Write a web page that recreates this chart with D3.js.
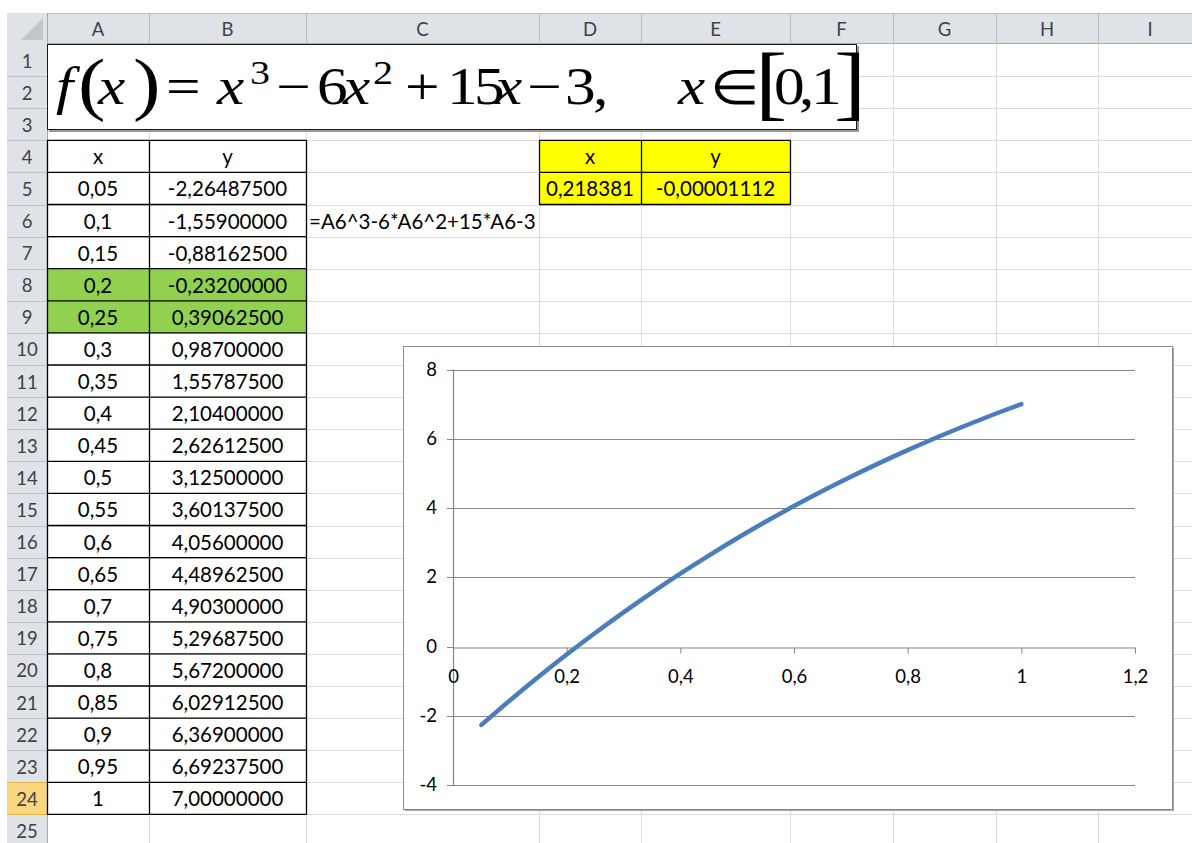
<!DOCTYPE html>
<html><head><meta charset="utf-8">
<script src="https://cdn.jsdelivr.net/npm/d3@7"></script>
<style>body{margin:0;background:#fff}svg{display:block}</style>
</head><body>
<svg id="s" width="1192" height="843"></svg>
<script>
// ---------------- data ----------------
const columnLabels = ["A","B","C","D","E","F","G","H","I"];
const xValues = [0.05,0.1,0.15,0.2,0.25,0.3,0.35,0.4,0.45,0.5,0.55,0.6,0.65,0.7,0.75,0.8,0.85,0.9,0.95,1];
const yValues = [-2.264875,-1.559,-0.881625,-0.232,0.390625,0.987,1.557875,2.104,2.626125,3.125,3.601375,4.056,4.489625,4.903,5.296875,5.672,6.029125,6.369,6.692375,7];
const highlightedRows = [8, 9];
const rootX = "0,218381";
const rootY = "-0,00001112";
const formulaText = "=A6^3-6*A6^2+15*A6-3";
const xTicks = [0,0.2,0.4,0.6,0.8,1,1.2];
const yTicks = [-4,-2,0,2,4,6,8];

// ---------------- layout ----------------
const svg = d3.select("#s");
const W = 1192, H = 843;
const colEdges = [47,149,306,539,641,790,893,996,1098,1202];
const headTop = 13, headBot = 44, rowH = 32.1, rowHeadL = 7;
const rowTop = r => headBot + (r - 1) * rowH;
const FONT = "Lato, 'Open Sans', sans-serif";
const CELL_FS = 20.5;
const comma = v => String(v).replace(".", ",");

svg.append("rect").attr("width", W).attr("height", H).attr("fill", "#fff");

// cell gridlines
const grid = svg.append("g").attr("stroke", "#DADCDD").attr("stroke-width", 1);
for (let r = 2; r <= 26; r++) {
  const y = Math.round(rowTop(r)) + 0.5;
  grid.append("line").attr("x1", 47).attr("x2", W).attr("y1", y).attr("y2", y);
}
colEdges.forEach(x => grid.append("line").attr("x1", x + 0.5).attr("x2", x + 0.5).attr("y1", headBot).attr("y2", H));

// column header
const hdr = svg.append("g");
hdr.append("rect").attr("x", rowHeadL).attr("y", headTop).attr("width", W - rowHeadL).attr("height", headBot - headTop).attr("fill", "#DFE2E6");
hdr.append("line").attr("x1", rowHeadL).attr("x2", W).attr("y1", headTop + 0.5).attr("y2", headTop + 0.5).attr("stroke", "#B9BDC2");
hdr.append("line").attr("x1", rowHeadL).attr("x2", W).attr("y1", headBot - 0.5).attr("y2", headBot - 0.5).attr("stroke", "#A3A8AE");
colEdges.forEach(x => hdr.append("line").attr("x1", x + 0.5).attr("x2", x + 0.5).attr("y1", headTop).attr("y2", headBot).attr("stroke", "#B9BDC2"));
columnLabels.forEach((c, i) => {
  hdr.append("text").attr("x", (colEdges[i] + colEdges[i + 1]) / 2).attr("y", 35.5)
    .attr("text-anchor", "middle").attr("font-family", FONT).attr("font-size", 18.5)
    .attr("fill", "#3E4247").text(c);
});
// corner
hdr.append("rect").attr("x", rowHeadL).attr("y", headTop).attr("width", 40).attr("height", 31).attr("fill", "#DFE2E6");
hdr.append("path").attr("d", `M${43},${18} L${43},${40} L${21},${40} Z`).attr("fill", "#C3C7CC");
hdr.append("line").attr("x1", 47.5).attr("x2", 47.5).attr("y1", headTop).attr("y2", headBot).attr("stroke", "#A3A8AE");

// row header
const rh = svg.append("g");
rh.append("rect").attr("x", rowHeadL).attr("y", headBot).attr("width", 40).attr("height", H - headBot).attr("fill", "#DFE2E6");
for (let r = 1; r <= 25; r++) {
  const t = rowTop(r);
  if (r === 24) {
    rh.append("rect").attr("x", rowHeadL).attr("y", t).attr("width", 40).attr("height", rowH).attr("fill", "#F8D77E");
    rh.append("line").attr("x1", rowHeadL).attr("x2", 47).attr("y1", Math.round(t) + 0.5).attr("y2", Math.round(t) + 0.5).attr("stroke", "#E2B54A");
  }
  rh.append("line").attr("x1", rowHeadL).attr("x2", 47).attr("y1", Math.round(t + rowH) + 0.5).attr("y2", Math.round(t + rowH) + 0.5)
    .attr("stroke", r === 24 ? "#E2B54A" : "#BFC3C8");
  rh.append("text").attr("x", 27).attr("y", t + 23.5).attr("text-anchor", "middle")
    .attr("font-family", FONT).attr("font-size", 18.5).attr("fill", "#3E4247").text(r);
}
rh.append("line").attr("x1", 47.5).attr("x2", 47.5).attr("y1", headBot).attr("y2", H).attr("stroke", "#A3A8AE");

// ---------------- title box (equation object) ----------------
const tb = svg.append("g");
tb.append("rect").attr("x", 49).attr("y", 46).attr("width", 810).attr("height", 86).attr("fill", "#9A9A9A");
tb.append("rect").attr("x", 47.5).attr("y", 44.5).attr("width", 809).attr("height", 85).attr("fill", "#fff").attr("stroke", "#1a1a1a").attr("stroke-width", 1);
const base = 104;
const FS = 52, SUP = 34;
const pieces = [
  [56, "f", true, FS, 0], [78, "(", false, 70, 3], [98, "x", true, FS, 0], [133, ")", false, 70, 3],
  [166, "=", false, FS, 0], [217, "x", true, FS, 0], [250, "3", false, SUP, -20],
  [276, "\u2212", false, FS, 0], [317, "6", false, FS, 0], [343, "x", true, FS, 0], [373, "2", false, SUP, -20],
  [405, "+", false, FS, 0], [447, "1", false, FS, 0], [474, "5", false, FS, 0], [495, "x", true, FS, 0],
  [527, "\u2212", false, FS, 0], [565, "3", false, FS, 0], [593, ",", false, FS, 0],
  [678, "x", true, FS, 0], [710, "\u2208", false, 48, 0], [755, "[", false, 82, 6],
  [774, "0", false, FS, 0], [799, ",", false, FS, 0], [811, "1", false, FS, 0], [834, "]", false, 82, 6]
];
pieces.forEach(([x, t, it, fs, dy]) => {
  tb.append("text").attr("transform", `translate(${x},${base + dy}) scale(1.18,1)`)
    .attr("font-family", "'Liberation Serif', 'Times New Roman', serif")
    .attr("font-style", it ? "italic" : "normal").attr("font-size", fs).attr("fill", "#000").text(t);
});

// ---------------- x / y table ----------------
const tbl = svg.append("g").attr("font-family", FONT).attr("font-size", CELL_FS).attr("fill", "#000");
const cellText = (g, x0, x1, r, txt, anchor) => {
  const t = rowTop(r);
  g.append("text").attr("x", anchor === "start" ? x0 + 4 : (x0 + x1) / 2).attr("y", t + 24)
    .attr("text-anchor", anchor || "middle").text(txt);
};
const tableRows = xValues.map((x, i) => ({ r: 5 + i, x, y: yValues[i] }));
tableRows.filter(d => highlightedRows.includes(d.r)).forEach(d => {
  tbl.append("rect").attr("x", colEdges[0]).attr("y", rowTop(d.r)).attr("width", colEdges[2] - colEdges[0]).attr("height", rowH).attr("fill", "#92D050");
});
cellText(tbl, colEdges[0], colEdges[1], 4, "x");
cellText(tbl, colEdges[1], colEdges[2], 4, "y");
tableRows.forEach(d => {
  cellText(tbl, colEdges[0], colEdges[1], d.r, comma(d.x));
  cellText(tbl, colEdges[1], colEdges[2], d.r, d.y.toFixed(8).replace(".", ","));
});
const bd = svg.append("g").attr("stroke", "#000").attr("stroke-width", 1.3).attr("fill", "none");
for (let r = 4; r <= 25; r++) {
  const y = rowTop(r);
  bd.append("line").attr("x1", colEdges[0]).attr("x2", colEdges[2] + 0.6).attr("y1", y).attr("y2", y);
}
[0, 1, 2].forEach(i => bd.append("line").attr("x1", colEdges[i] + 0.5).attr("x2", colEdges[i] + 0.5).attr("y1", rowTop(4)).attr("y2", rowTop(25)));

// yellow result block
const yb = svg.append("g").attr("font-family", FONT).attr("font-size", CELL_FS);
yb.append("rect").attr("x", colEdges[3]).attr("y", rowTop(4)).attr("width", colEdges[5] - colEdges[3]).attr("height", 2 * rowH).attr("fill", "#FFFF00");
cellText(yb, colEdges[3], colEdges[4], 4, "x");
cellText(yb, colEdges[4], colEdges[5], 4, "y");
cellText(yb, colEdges[3], colEdges[4], 5, rootX);
cellText(yb, colEdges[4], colEdges[5], 5, rootY);
const yb2 = svg.append("g").attr("stroke", "#000").attr("stroke-width", 1.3);
[4, 5, 6].forEach(r => yb2.append("line").attr("x1", colEdges[3]).attr("x2", colEdges[5] + 0.6).attr("y1", rowTop(r)).attr("y2", rowTop(r)));
[3, 4, 5].forEach(i => yb2.append("line").attr("x1", colEdges[i] + 0.5).attr("x2", colEdges[i] + 0.5).attr("y1", rowTop(4)).attr("y2", rowTop(6)));

// formula in C6
svg.append("text").attr("x", colEdges[2] + 3).attr("y", rowTop(6) + 24).attr("font-family", FONT).attr("font-size", CELL_FS).attr("fill", "#000").text(formulaText);

// ---------------- chart ----------------
const ch = svg.append("g");
const cL = 403.5, cT = 346.5, cR = 1172.5, cB = 809.5;
ch.append("rect").attr("x", cL + 1.5).attr("y", cT + 1.5).attr("width", cR - cL).attr("height", cB - cT).attr("fill", "#A6A6A6");
ch.append("rect").attr("x", cL).attr("y", cT).attr("width", cR - cL).attr("height", cB - cT).attr("fill", "#fff").attr("stroke", "#8C8C8C").attr("stroke-width", 1);

const xS = d3.scaleLinear().domain([0, 1.2]).range([453, 1135]);
const yS = d3.scaleLinear().domain([-4, 8]).range([785, 369.5]);
const axisColor = "#868686";
const LBL_FS = 18.5;

const yAx = ch.append("g").attr("transform", `translate(${xS(0)},0)`)
  .call(d3.axisLeft(yS).tickValues(yTicks).tickSize(6).tickFormat(d => comma(d)));
yAx.select(".domain").remove();
yAx.selectAll(".tick line").attr("stroke", axisColor);
yAx.selectAll(".tick text").attr("font-family", FONT).attr("font-size", LBL_FS).attr("fill", "#000").attr("x", -16);
ch.append("g").selectAll("line").data(yTicks.filter(v => v !== 0)).join("line")
  .attr("x1", xS(0)).attr("x2", xS(1.2))
  .attr("y1", d => Math.round(yS(d)) + 0.5).attr("y2", d => Math.round(yS(d)) + 0.5)
  .attr("stroke", axisColor).attr("stroke-width", 1.2);
yAx.selectAll(".tick").attr("transform", d => `translate(0,${Math.round(yS(d)) + 0.5})`);
ch.append("line").attr("x1", xS(0) + 0.5).attr("x2", xS(0) + 0.5).attr("y1", yS(8)).attr("y2", yS(-4))
  .attr("stroke", axisColor).attr("stroke-width", 1.2);

const xAx = ch.append("g").attr("transform", `translate(0,${Math.round(yS(0)) + 0.5})`)
  .call(d3.axisBottom(xS).tickValues(xTicks).tickSize(6).tickSizeOuter(0).tickFormat(d => comma(d)));
xAx.select(".domain").attr("stroke", axisColor).attr("stroke-width", 1.2);
xAx.selectAll(".tick line").attr("stroke", axisColor);
xAx.selectAll(".tick text").attr("font-family", FONT).attr("font-size", LBL_FS).attr("fill", "#000").attr("y", 22);

const line = d3.line().x(d => xS(d[0])).y(d => yS(d[1])).curve(d3.curveMonotoneX);
ch.append("path").datum(xValues.map((x, i) => [x, yValues[i]]))
  .attr("d", line).attr("fill", "none").attr("stroke", "#4A7EBB").attr("stroke-width", 4.5).attr("stroke-linecap", "round");
</script>
</body></html>
